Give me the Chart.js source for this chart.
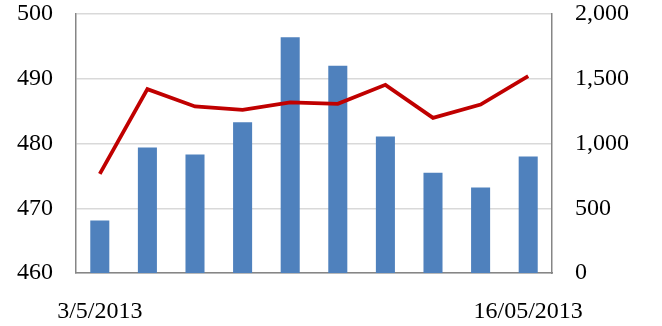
<!DOCTYPE html>
<html>
<head>
<meta charset="utf-8">
<script src="https://cdn.jsdelivr.net/npm/chart.js@4/dist/chart.umd.min.js"></script>
<style>
  html, body { margin: 0; padding: 0; background: #fff; }
  #wrap { width: 662px; height: 326px; }
</style>
</head>
<body>
<div id="wrap"><canvas id="chart" width="662" height="326"></canvas></div>
<script>
// trading days shown on the category axis (only first and last get a label)
const dates = ["3/5/2013", "6/5/2013", "7/5/2013", "8/5/2013", "9/5/2013",
               "10/5/2013", "13/5/2013", "14/5/2013", "15/5/2013", "16/05/2013"];
// columns, left axis (460 - 500)
const barValues = [468.1, 479.4, 478.3, 483.3, 496.4, 492.0, 481.1, 475.5, 473.2, 478.0];
// line, right axis (0 - 2,000)
const lineValues = [765, 1420, 1286, 1260, 1317, 1306, 1453, 1198, 1301, 1520];

const leftTicks = { min: 460, max: 500, step: 10 };
const rightTicks = { min: 0, max: 2000, step: 500 };

const font = { family: "'Liberation Serif', 'Times New Roman', serif", size: 24 };

// tick padding also pads the top of vertical scales; keep the plot top at 14px
function fixVertical(width) {
  return function (s) {
    s.width = width;
    s.paddingTop = 14;
    s.paddingBottom = 0;
  };
}

new Chart(document.getElementById("chart").getContext("2d"), {
  data: {
    labels: dates,
    datasets: [
      {
        type: "line",
        data: lineValues,
        yAxisID: "y1",
        borderColor: "#C00000",
        borderWidth: 3.8,
        pointRadius: 0,
        tension: 0,
        order: 0
      },
      {
        type: "bar",
        data: barValues,
        yAxisID: "y",
        backgroundColor: "#4F81BD",
        categoryPercentage: 1,
        barPercentage: 0.4,
        order: 1
      }
    ]
  },
  options: {
    responsive: false,
    animation: false,
    layout: { padding: 0 },
    plugins: { legend: { display: false }, tooltip: { enabled: false } },
    scales: {
      x: {
        grid: { display: false, drawTicks: false },
        border: { color: "#868686", width: 1.5 },
        ticks: {
          font: font, color: "#000", padding: 24,
          autoSkip: false, minRotation: 0, maxRotation: 0,
          callback: function (v, i) {
            return (i === 0 || i === dates.length - 1) ? dates[i] : "";
          }
        },
        afterFit: function (s) { s.height = 53; }
      },
      y: {
        position: "left",
        min: leftTicks.min, max: leftTicks.max,
        grid: { color: "#d9d9d9", lineWidth: 1.5, drawTicks: false },
        border: { color: "#868686", width: 1.5 },
        ticks: { stepSize: leftTicks.step, font: font, color: "#000", padding: 23 },
        afterFit: fixVertical(76)
      },
      y1: {
        position: "right",
        min: rightTicks.min, max: rightTicks.max,
        grid: { display: false, drawTicks: false },
        border: { color: "#868686", width: 1.5 },
        ticks: {
          stepSize: rightTicks.step, font: font, color: "#000", padding: 23,
          callback: function (v) { return v.toLocaleString("en-US"); }
        },
        afterFit: fixVertical(110)
      }
    }
  }
});
</script>
</body>
</html>
